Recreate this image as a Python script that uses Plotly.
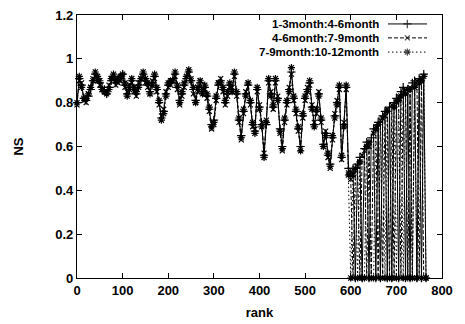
import plotly.graph_objects as go

ranks = list(range(0, 770, 5))

series_names = ["1-3month:4-6month", "4-6month:7-9month", "7-9month:10-12month"]

ns_1_3 = [
    0.80, 0.91, 0.88, 0.82, 0.81, 0.83, 0.86, 0.90, 0.93, 0.91,
    0.89, 0.87, 0.86, 0.84, 0.87, 0.90, 0.92, 0.89, 0.90, 0.91,
    0.93, 0.88, 0.84, 0.87, 0.90, 0.86, 0.84, 0.88, 0.90, 0.93,
    0.90, 0.88, 0.85, 0.89, 0.92, 0.86, 0.80, 0.73, 0.76, 0.84,
    0.88, 0.89, 0.91, 0.93, 0.87, 0.81, 0.84, 0.88, 0.91, 0.94,
    0.90, 0.86, 0.81, 0.86, 0.89, 0.85, 0.87, 0.83, 0.77, 0.70,
    0.72, 0.82, 0.88, 0.90, 0.86, 0.80, 0.84, 0.88, 0.86, 0.93,
    0.84, 0.72, 0.65, 0.76, 0.84, 0.88, 0.80, 0.70, 0.67, 0.86,
    0.78, 0.70, 0.56, 0.70, 0.90, 0.84, 0.78, 0.90, 0.82, 0.68,
    0.60, 0.72, 0.80, 0.86, 0.94, 0.82, 0.76, 0.68, 0.60, 0.74,
    0.82, 0.86, 0.89, 0.78, 0.70, 0.76, 0.84, 0.72, 0.61, 0.66,
    0.56, 0.52, 0.64, 0.74, 0.80, 0.87, 0.55, 0.70, 0.87, 0.50,
    0.48, 0.50, 0.00, 0.52, 0.55, 0.00, 0.59, 0.62, 0.00, 0.64,
    0.68, 0.00, 0.71, 0.00, 0.74, 0.76, 0.00, 0.78, 0.00, 0.80,
    0.82, 0.00, 0.85, 0.87, 0.00, 0.86, 0.00, 0.89, 0.90, 0.00,
    0.91, 0.00, 0.93, 0.00,
]

ns_4_6 = [
    0.79, 0.90, 0.89, 0.81, 0.80, 0.84, 0.87, 0.91, 0.92, 0.90,
    0.88, 0.86, 0.85, 0.85, 0.88, 0.91, 0.91, 0.88, 0.89, 0.90,
    0.92, 0.87, 0.85, 0.88, 0.89, 0.85, 0.83, 0.89, 0.91, 0.92,
    0.89, 0.87, 0.84, 0.90, 0.91, 0.85, 0.79, 0.74, 0.77, 0.85,
    0.87, 0.88, 0.90, 0.92, 0.86, 0.79, 0.83, 0.87, 0.92, 0.93,
    0.91, 0.84, 0.80, 0.85, 0.90, 0.86, 0.86, 0.82, 0.76, 0.68,
    0.70, 0.81, 0.89, 0.91, 0.85, 0.79, 0.83, 0.87, 0.87, 0.92,
    0.83, 0.71, 0.63, 0.75, 0.85, 0.89, 0.79, 0.69, 0.68, 0.85,
    0.79, 0.71, 0.57, 0.72, 0.89, 0.85, 0.77, 0.89, 0.83, 0.66,
    0.58, 0.71, 0.79, 0.87, 0.93, 0.81, 0.75, 0.67, 0.59, 0.73,
    0.81, 0.87, 0.88, 0.79, 0.71, 0.75, 0.85, 0.71, 0.60, 0.67,
    0.55, 0.50, 0.63, 0.75, 0.81, 0.86, 0.54, 0.71, 0.86, 0.48,
    0.45, 0.00, 0.49, 0.51, 0.00, 0.56, 0.58, 0.00, 0.60, 0.00,
    0.66, 0.69, 0.00, 0.72, 0.00, 0.74, 0.77, 0.00, 0.79, 0.00,
    0.80, 0.83, 0.00, 0.84, 0.86, 0.00, 0.87, 0.00, 0.88, 0.90,
    0.00, 0.91, 0.00, 0.00,
]

ns_7_9 = [
    0.80, 0.92, 0.87, 0.82, 0.82, 0.84, 0.87, 0.90, 0.94, 0.92,
    0.90, 0.86, 0.85, 0.84, 0.86, 0.91, 0.93, 0.90, 0.91, 0.92,
    0.93, 0.89, 0.83, 0.86, 0.91, 0.87, 0.85, 0.87, 0.91, 0.94,
    0.91, 0.89, 0.84, 0.88, 0.93, 0.87, 0.81, 0.72, 0.75, 0.83,
    0.89, 0.90, 0.90, 0.94, 0.88, 0.80, 0.85, 0.89, 0.92, 0.95,
    0.90, 0.87, 0.80, 0.87, 0.90, 0.84, 0.88, 0.84, 0.78, 0.69,
    0.71, 0.83, 0.89, 0.89, 0.87, 0.81, 0.85, 0.89, 0.85, 0.94,
    0.85, 0.73, 0.64, 0.77, 0.83, 0.89, 0.81, 0.71, 0.66, 0.87,
    0.77, 0.69, 0.55, 0.71, 0.91, 0.83, 0.79, 0.91, 0.81, 0.67,
    0.59, 0.73, 0.81, 0.85, 0.96, 0.83, 0.77, 0.69, 0.58, 0.75,
    0.83, 0.85, 0.90, 0.77, 0.69, 0.77, 0.83, 0.73, 0.60, 0.65,
    0.57, 0.51, 0.65, 0.73, 0.79, 0.88, 0.56, 0.69, 0.88, 0.47,
    0.00, 0.47, 0.50, 0.00, 0.53, 0.00, 0.00, 0.60, 0.62, 0.00,
    0.00, 0.68, 0.70, 0.00, 0.73, 0.00, 0.76, 0.00, 0.00, 0.78,
    0.00, 0.81, 0.83, 0.00, 0.84, 0.00, 0.86, 0.00, 0.87, 0.00,
    0.89, 0.90, 0.92, 0.00,
]

x_ticks = [0, 100, 200, 300, 400, 500, 600, 700, 800]
y_ticks = [0, 0.2, 0.4, 0.6, 0.8, 1.0, 1.2]
y_tick_text = ["0", "0.2", "0.4", "0.6", "0.8", "1", "1.2"]

styles = [
    dict(dash="solid", symbol="cross-thin", msize=6),
    dict(dash="4px,2px", symbol="x-thin", msize=5),
    dict(dash="1.5px,2.5px", symbol="asterisk", msize=6),
]

FONT = "Liberation Sans, Arial, sans-serif"
fig = go.Figure()

for name, ys, st in zip(series_names, [ns_1_3, ns_4_6, ns_7_9], styles):
    fig.add_trace(go.Scatter(
        x=ranks, y=ys, mode="lines+markers", name=name,
        line=dict(color="black", width=1, dash=st["dash"]),
        marker=dict(symbol=st["symbol"], size=st["msize"], color="black",
                    line=dict(color="black", width=1.2)),
        cliponaxis=False, showlegend=False,
    ))

# key (gnuplot style: text then sample on the right)
key_rows = [0.966, 0.913, 0.859]
for name, st, ky in zip(series_names, styles, key_rows):
    fig.add_trace(go.Scatter(
        x=[0.852, 0.905, 0.959], y=[ky, ky, ky], xaxis="x2", yaxis="y2",
        mode="lines+markers", showlegend=False, hoverinfo="skip",
        line=dict(color="black", width=1, dash=st["dash"]),
        marker=dict(symbol=st["symbol"], size=[0, st["msize"], 0], color="black",
                    line=dict(color="black", width=1.2)),
    ))
    fig.add_annotation(xref="paper", yref="paper", x=0.832, y=ky,
                       xanchor="right", yanchor="middle", showarrow=False,
                       text="<b>" + name + "</b>",
                       font=dict(family=FONT, size=11.5, color="black"))

axis_common = dict(
    showline=True, linecolor="black", linewidth=1.3, mirror="ticks",
    ticks="inside", ticklen=5, tickwidth=1.2, tickcolor="black",
    showgrid=False, zeroline=False, automargin=False,
    ticklabeloverflow="allow",
    tickfont=dict(family=FONT, size=13, color="black", weight="bold"),
)

# the page body adds an 8px offset, so the figure is sized/margined to compensate
fig.update_layout(
    width=457, height=316,
    margin=dict(l=69, r=23, t=7, b=46),
    paper_bgcolor="white", plot_bgcolor="white",
    xaxis=dict(range=[0, 800], tickvals=x_ticks,
               title=dict(text="<b>rank</b>", font=dict(family=FONT, size=13, color="black"), standoff=11),
               **axis_common),
    yaxis=dict(range=[0, 1.2], tickvals=y_ticks, ticktext=y_tick_text,
               title=dict(text="<b>NS</b>", font=dict(family=FONT, size=13, color="black"), standoff=28),
               **axis_common),
    xaxis2=dict(range=[0, 1], overlaying="x", visible=False),
    yaxis2=dict(range=[0, 1], overlaying="y", visible=False),
)

fig.write_html("out.html")
